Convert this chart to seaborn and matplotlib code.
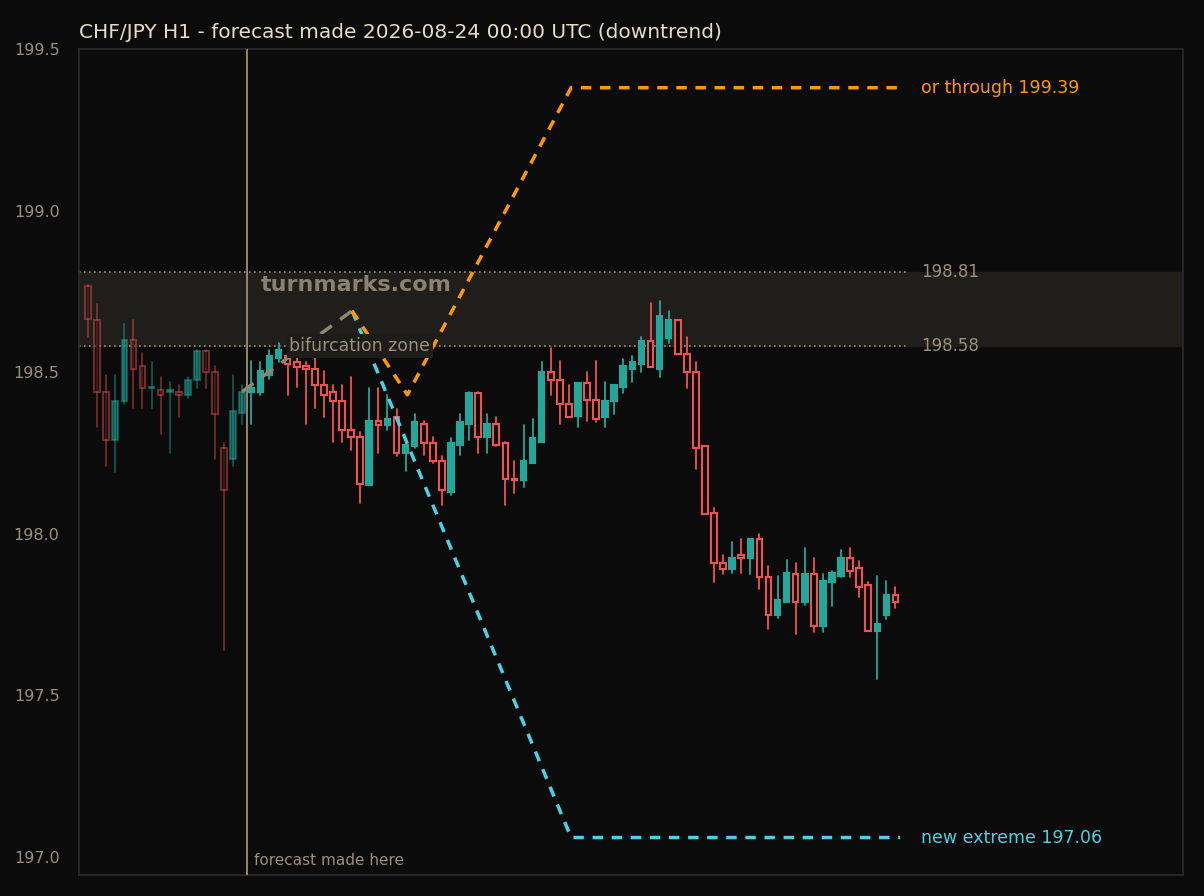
import matplotlib
matplotlib.use("Agg")
import matplotlib.pyplot as plt
import seaborn as sns
import numpy as np
import pandas as pd

opens = [198.767,198.66,198.44,198.29,198.41,198.60,198.52,198.45,198.445,198.44,198.44,198.43,198.475,198.565,198.50,198.265,198.23,198.375,
         198.44,198.44,198.49,198.545,198.55,198.53,198.52,198.51,198.46,198.44,198.41,198.32,198.30,198.15,198.35,198.335,198.36,198.25,
         198.27,198.34,198.28,198.225,198.13,198.275,198.34,198.435,198.30,198.34,198.28,198.17,198.165,198.22,198.285,198.50,198.475,198.40,
         198.365,198.465,198.415,198.36,198.41,198.455,198.51,198.525,198.595,198.51,198.605,198.66,198.555,198.50,198.27,198.065,197.91,197.89,
         197.935,197.925,197.985,197.865,197.75,197.79,197.875,197.79,197.875,197.715,197.85,197.87,197.925,197.895,197.84,197.70,197.75,197.81]
closes = [198.665,198.44,198.29,198.41,198.60,198.51,198.45,198.45,198.43,198.445,198.43,198.475,198.565,198.50,198.37,198.135,198.38,198.44,
          198.45,198.505,198.55,198.57,198.525,198.515,198.51,198.46,198.43,198.41,198.32,198.30,198.155,198.35,198.335,198.355,198.25,198.275,
          198.345,198.28,198.225,198.135,198.28,198.345,198.435,198.30,198.34,198.275,198.17,198.165,198.225,198.295,198.50,198.475,198.40,198.36,
          198.465,198.415,198.355,198.41,198.46,198.52,198.53,198.595,198.515,198.675,198.66,198.555,198.50,198.265,198.06,197.91,197.89,197.925,
          197.925,197.985,197.865,197.75,197.795,197.88,197.79,197.875,197.715,197.855,197.88,197.925,197.885,197.835,197.70,197.72,197.81,197.79]
highs = [198.77,198.71,198.49,198.49,198.65,198.66,198.56,198.53,198.485,198.47,198.46,198.485,198.57,198.57,198.52,198.28,198.49,198.46,
         198.535,198.53,198.57,198.59,198.59,198.545,198.53,198.545,198.505,198.46,198.46,198.485,198.315,198.45,198.45,198.43,198.385,198.29,
         198.37,198.35,198.30,198.24,198.295,198.37,198.44,198.44,198.37,198.36,198.285,198.225,198.335,198.355,198.53,198.575,198.535,198.46,
         198.465,198.50,198.535,198.47,198.46,198.54,198.55,198.61,198.715,198.72,198.69,198.66,198.61,198.53,198.27,198.08,197.935,197.975,
         197.985,197.985,198.00,197.90,197.87,197.92,197.91,197.955,197.925,197.875,197.885,197.95,197.955,197.915,197.85,197.87,197.855,197.835]
lows = [198.61,198.33,198.21,198.19,198.40,198.39,198.39,198.39,198.31,198.25,198.36,198.42,198.45,198.45,198.23,197.64,198.21,198.34,
        198.34,198.43,198.48,198.53,198.43,198.455,198.34,198.39,198.36,198.285,198.285,198.26,198.095,198.15,198.25,198.32,198.24,198.195,
        198.265,198.245,198.22,198.09,198.12,198.245,198.29,198.25,198.25,198.27,198.09,198.125,198.145,198.22,198.285,198.43,198.34,198.36,
        198.33,198.35,198.345,198.33,198.37,198.435,198.47,198.50,198.515,198.485,198.59,198.555,198.45,198.20,198.06,197.85,197.875,197.88,
        197.88,197.875,197.83,197.705,197.74,197.79,197.69,197.78,197.695,197.695,197.775,197.865,197.865,197.805,197.70,197.55,197.735,197.77]

forecast_idx = 17.5
path_x = [17, 29.1]; path_y = [198.44, 198.69]
up_x = [29.1, 35.2, 53.25, 89.5]; up_y = [198.69, 198.43, 199.38, 199.38]
dn_x = [29.1, 53.25, 89.5]; dn_y = [198.69, 197.06, 197.06]
zone_lo, zone_hi = 198.58, 198.81

BG = "#0b0b0b"; RED = "#ef5350"; GREEN = "#26a69a"; CYAN = "#4dd0e1"; ORANGE = "#ff9800"; MUTED = "#9a8f78"

sns.set_theme(style="dark")
plt.rcParams['font.family'] = ['DejaVu Sans']
fig = plt.figure(figsize=(12.04, 8.96), dpi=100, facecolor=BG)
ax = fig.add_axes([0.0656, 0.0234, 0.917, 0.922])
ax.set_facecolor(BG)

ax.axhspan(zone_lo, zone_hi, color="#201e1a", zorder=0)
for lv in (zone_lo, zone_hi):
    ax.plot([-1, 90.5], [lv, lv], ls=(0, (1, 2)), color=MUTED, lw=1.2, zorder=1)

for i, (o, c, h, l) in enumerate(zip(opens, closes, highs, lows)):
    a = 0.45 if i < forecast_idx else 1.0
    up = c >= o
    col = GREEN if up else RED
    ax.plot([i, i], [l, h], color=col, lw=1.3, alpha=a, zorder=2)
    bot, hgt = min(o, c), max(abs(c - o), 0.004)
    ax.bar(i, hgt, bottom=bot, width=0.62, color=col if up else BG,
           edgecolor=col, linewidth=1.5, alpha=a, zorder=3)

ax.axvline(forecast_idx, color=MUTED, lw=1.3, zorder=4)
fc = pd.DataFrame({"x": path_x, "y": path_y})
sns.lineplot(data=fc, x="x", y="y", ax=ax, color="#8f8670", lw=2.5, dashes=False, zorder=5).lines[-1].set_dashes([4, 3])
sns.lineplot(data=pd.DataFrame({"x": dn_x, "y": dn_y}), x="x", y="y", ax=ax, color=CYAN, lw=2.5, zorder=6).lines[-1].set_dashes([3, 2.5])
sns.lineplot(data=pd.DataFrame({"x": up_x, "y": up_y}), x="x", y="y", ax=ax, color=ORANGE, lw=2.5, zorder=7).lines[-1].set_dashes([3, 2.5])

ax.text(91.8, 199.38, "or through 199.39", color=ORANGE, fontsize=12.5, va="center")
ax.text(91.8, 197.06, "new extreme 197.06", color=CYAN, fontsize=12.5, va="center")
ax.text(91.8, zone_hi, "198.81", color=MUTED, fontsize=12, va="center")
ax.text(91.8, zone_lo, "198.58", color=MUTED, fontsize=12, va="center")
ax.text(19, 198.77, "turnmarks.com", color="#8a8270", fontsize=16, fontweight="bold", va="center")
ax.text(22.2, 198.58, "bifurcation zone", color=MUTED, fontsize=12.5, va="center",
        bbox=dict(facecolor="#1e1c19", edgecolor="none", pad=2), zorder=8)
ax.text(18.3, 196.99, "forecast made here", color=MUTED, fontsize=11, va="center")

ax.set_xlim(-1, 120.7)
ax.set_ylim(196.944, 199.5)
ax.set_yticks([197.0, 197.5, 198.0, 198.5, 199.0, 199.5])
ax.set_yticklabels(["197.0", "197.5", "198.0", "198.5", "199.0", "199.5"])
ax.set_xticks([])
ax.set_xlabel(""); ax.set_ylabel("")
ax.tick_params(axis="y", colors=MUTED, labelsize=11.5, length=0, pad=14)
ax.grid(False)
for s in ax.spines.values():
    s.set_color("#2a2a2a"); s.set_visible(True)
ax.set_title("CHF/JPY H1 - forecast made 2026-08-24 00:00 UTC (downtrend)", color="#e6dcc4",
             fontsize=14.5, loc="left", pad=8)
fig.savefig("out.png", dpi=100, facecolor=BG)
